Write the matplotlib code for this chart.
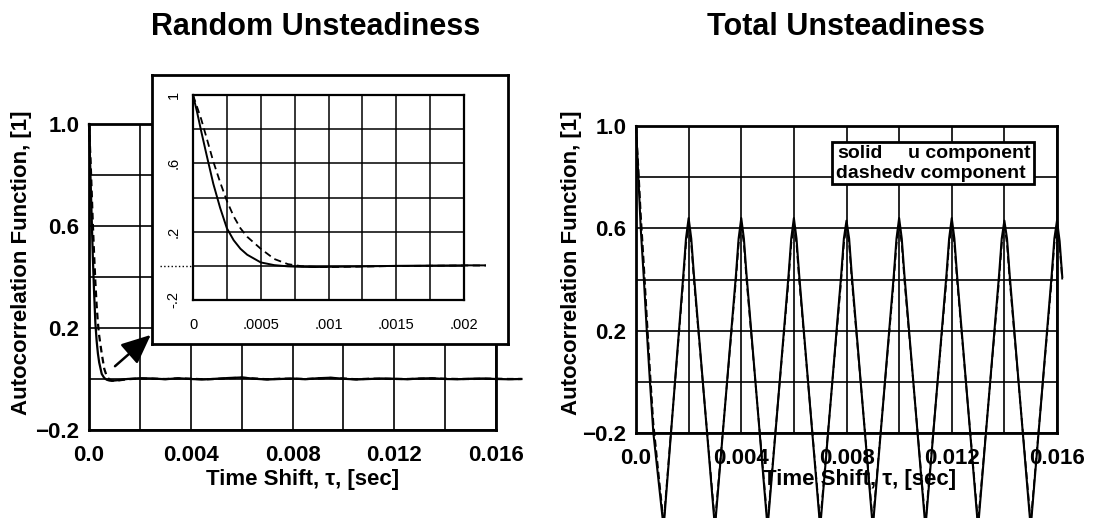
import numpy as np
import matplotlib
matplotlib.use('Agg')
import matplotlib.pyplot as plt
from matplotlib.patches import Rectangle
from matplotlib.transforms import Bbox, TransformedBbox

plt.rcParams['font.family'] = ['Liberation Sans', 'DejaVu Sans']

# Random unsteadiness : autocorrelation of u (solid) and v (dashed)
tau_rand = [0, 0.00003, 0.00006, 0.0001, 0.00015, 0.0002, 0.00025, 0.0003, 0.00035,
            0.0004, 0.0005, 0.0006, 0.0007, 0.0008, 0.0009, 0.001, 0.0012, 0.0015,
            0.002, 0.0025, 0.003, 0.0035, 0.004, 0.0045, 0.005, 0.0055, 0.006,
            0.0065, 0.007, 0.0075, 0.008, 0.0085, 0.009, 0.0095, 0.01, 0.0105,
            0.011, 0.0115, 0.012, 0.0125, 0.013, 0.0135, 0.014, 0.0145, 0.015,
            0.0155, 0.016, 0.0165, 0.017]
u_rand = [1.0, 0.90, 0.79, 0.65, 0.48, 0.34, 0.22, 0.15, 0.10,
          0.065, 0.02, 0.004, -0.003, -0.006, -0.007, -0.006, -0.004, 0.0,
          0.003, 0.002, -0.001, 0.003, 0.0, -0.002, 0.001, 0.004, 0.006,
          0.001, -0.002, 0.0, 0.002, -0.001, 0.003, 0.005, 0.001, -0.002,
          0.0, 0.002, 0.001, -0.001, 0.002, 0.003, 0.0, -0.001, 0.001,
          0.002, 0.0, -0.001, 0.0]
v_rand = [1.0, 0.93, 0.86, 0.75, 0.61, 0.49, 0.38, 0.29, 0.22,
          0.17, 0.10, 0.04, 0.01, -0.002, -0.006, -0.007, -0.005, -0.001,
          0.002, 0.001, 0.0, 0.002, 0.001, -0.001, 0.0, 0.003, 0.005,
          0.002, -0.001, 0.001, 0.001, 0.0, 0.002, 0.004, 0.002, -0.001,
          0.001, 0.001, 0.0, 0.0, 0.001, 0.002, 0.001, 0.0, 0.0,
          0.001, 0.001, 0.0, 0.0]

# Total unsteadiness (random + periodic part, 500 Hz)
tau_total = [0, 0.00009, 0.00018, 0.0003, 0.00041, 0.00053, 0.00066, 0.00105,
             0.0018, 0.0019, 0.002, 0.0021, 0.0022, 0.003,
             0.0038, 0.0039, 0.004, 0.0041, 0.0042, 0.005,
             0.0058, 0.0059, 0.006, 0.0061, 0.0062, 0.007,
             0.0078, 0.0079, 0.008, 0.0081, 0.0082, 0.009,
             0.0098, 0.0099, 0.010, 0.0101, 0.0102, 0.011,
             0.0118, 0.0119, 0.012, 0.0121, 0.0122, 0.013,
             0.0138, 0.0139, 0.014, 0.0141, 0.0142, 0.015,
             0.0158, 0.0159, 0.016, 0.0161, 0.0162]
u_total = [1.0, 0.80, 0.60, 0.40, 0.20, 0.0, -0.20, -0.57,
           0.42, 0.56, 0.64, 0.56, 0.42, -0.57,
           0.42, 0.56, 0.64, 0.56, 0.42, -0.57,
           0.42, 0.56, 0.64, 0.56, 0.42, -0.57,
           0.42, 0.56, 0.63, 0.56, 0.42, -0.57,
           0.42, 0.56, 0.64, 0.56, 0.42, -0.57,
           0.42, 0.56, 0.64, 0.56, 0.42, -0.57,
           0.42, 0.56, 0.63, 0.56, 0.42, -0.57,
           0.42, 0.56, 0.63, 0.55, 0.41]
v_total = [1.0, 0.84, 0.66, 0.46, 0.26, 0.05, -0.16, -0.55,
           0.40, 0.54, 0.61, 0.54, 0.40, -0.55,
           0.40, 0.54, 0.61, 0.54, 0.40, -0.55,
           0.40, 0.54, 0.61, 0.54, 0.40, -0.55,
           0.40, 0.54, 0.61, 0.54, 0.40, -0.55,
           0.40, 0.54, 0.61, 0.54, 0.40, -0.55,
           0.40, 0.54, 0.61, 0.54, 0.40, -0.55,
           0.40, 0.54, 0.61, 0.54, 0.40, -0.55,
           0.40, 0.54, 0.61, 0.53, 0.40]

x_ticks = [0, 0.002, 0.004, 0.006, 0.008, 0.010, 0.012, 0.014, 0.016]
x_labels = ['0.0', '', '0.004', '', '0.008', '', '0.012', '', '0.016']
y_ticks = [-0.2, 0.0, 0.2, 0.4, 0.6, 0.8, 1.0]
y_labels = ['\u22120.2', '', '0.2', '', '0.6', '', '1.0']

ins_x_ticks = [0, 0.00025, 0.0005, 0.00075, 0.001, 0.00125, 0.0015, 0.00175, 0.002]
ins_x_labels = ['0', '', '.0005', '', '.001', '', '.0015', '', '.002']
ins_y_labels = ['-.2', '', '.2', '', '.6', '', '1']

W, H = 1093, 518


def px(x, y, w, h):
    # pixel box (from top-left) -> figure fraction
    return [x / W, 1 - (y + h) / H, w / W, h / H]


def style_main(ax):
    ax.set_xlim(0, 0.016)
    ax.set_ylim(-0.2, 1.0)
    ax.set_xticks(x_ticks)
    ax.set_xticklabels(x_labels, fontweight='bold')
    ax.set_yticks(y_ticks)
    ax.set_yticklabels(y_labels, fontweight='bold')
    ax.grid(True, color='black', lw=1.2)
    ax.tick_params(length=0, labelsize=16)
    ax.tick_params(axis='x', pad=11)
    ax.tick_params(axis='y', pad=7)
    for s in ax.spines.values():
        s.set_linewidth(2)


fig = plt.figure(figsize=(W / 100, H / 100), dpi=100)

# left: random unsteadiness
axL = fig.add_axes(px(89, 124, 407, 306))
style_main(axL)
axL.plot(tau_rand, u_rand, color='black', lw=1.6, clip_on=False)
axL.plot(tau_rand, v_rand, color='black', lw=1.6, ls=(0, (3, 2)), clip_on=False)
axL.annotate('', xy=(0.00251, 0.18), xytext=(0.00094, 0.043),
             arrowprops=dict(arrowstyle='-|>,head_length=0.9,head_width=0.4',
                             color='black', lw=1.8, mutation_scale=20),
             annotation_clip=False)

# right: total unsteadiness
axR = fig.add_axes(px(636, 126, 421, 307))
style_main(axR)
axR.plot(tau_total, u_total, color='black', lw=1.5, clip_on=False)
axR.plot(tau_total, v_total, color='black', lw=1.3, ls=(0, (4, 2)), clip_on=False)

# inset box
box = fig.add_axes(px(152, 75, 356, 269))
box.set_zorder(3)
box.set_xticks([])
box.set_yticks([])
for s in box.spines.values():
    s.set_linewidth(2)

axI = fig.add_axes(px(193, 95, 271, 205))
axI.set_zorder(4)
axI.patch.set_alpha(0)
axI.set_xlim(0, 0.002)
axI.set_ylim(-0.2, 1.0)
axI.set_xticks(ins_x_ticks)
axI.set_xticklabels(ins_x_labels)
axI.set_yticks(y_ticks)
axI.set_yticklabels(ins_y_labels, rotation=90, va='center')
axI.grid(True, color='black', lw=1.1)
axI.tick_params(length=0, labelsize=10.5)
axI.tick_params(axis='x', pad=13)
axI.tick_params(axis='y', pad=9)
for s in axI.spines.values():
    s.set_linewidth(1.6)
clip = TransformedBbox(Bbox([[0, -0.3], [0.00216, 1.1]]), axI.transData)
l1, = axI.plot(tau_rand, u_rand, color='black', lw=1.4)
l2, = axI.plot(tau_rand, v_rand, color='black', lw=1.3, ls=(0, (4, 2.5)))
for ln in (l1, l2):
    ln.set_clip_box(clip)
axI.axhline(0, xmin=-0.12, xmax=0, color='black', lw=1.0, ls=':', clip_on=False)

# legend text box on the right panel
fig.patches.append(Rectangle((832 / W, 1 - 184 / H), 202 / W, 42 / H,
                             transform=fig.transFigure, fc='white', ec='black',
                             lw=2, zorder=5))
fig.text(837 / W, 1 - 153 / H, 'solid', fontsize=14, fontweight='bold', va='center', zorder=6)
fig.text(908 / W, 1 - 153 / H, 'u component', fontsize=14, fontweight='bold', va='center', zorder=6)
fig.text(836 / W, 1 - 173 / H, 'dashedv component', fontsize=14, fontweight='bold', va='center', zorder=6)

# titles and axis labels
fig.text(316 / W, 1 - 27 / H, 'Random Unsteadiness', fontsize=22, fontweight='bold', ha='center', va='center')
fig.text(846 / W, 1 - 27 / H, 'Total Unsteadiness', fontsize=22, fontweight='bold', ha='center', va='center')
for xx in (22, 572):
    fig.text(xx / W, 1 - 263 / H, 'Autocorrelation Function, [1]', fontsize=16,
             fontweight='bold', rotation=90, ha='center', va='center')
for xx in (303, 860):
    fig.text(xx / W, 1 - 479 / H, 'Time Shift, \u03c4, [sec]', fontsize=16,
             fontweight='bold', ha='center', va='center')

fig.savefig('out.png', dpi=100, facecolor='white')
